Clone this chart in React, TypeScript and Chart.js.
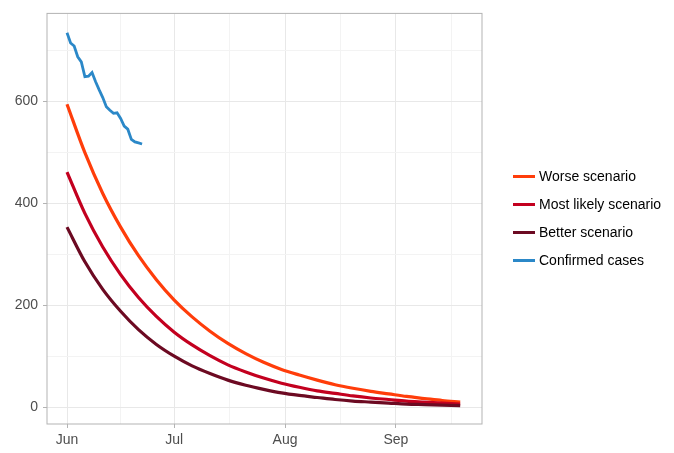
import { useEffect, useRef } from "react"
import { Chart, registerables } from "chart.js"

Chart.register(...registerables)

// days counted from Jun 1
const scenarioDays = [0, 5, 10, 15, 20, 25, 30, 35, 40, 45, 50, 55, 60, 65, 70, 75, 80, 85, 90, 95, 100, 105, 110]
const worseScenario = [594, 499, 419, 353, 297, 250, 210, 177, 149, 125, 105, 88, 74, 63, 53, 44, 37, 31, 26, 21, 17, 13, 10]
const likelyScenario = [461, 380, 314, 260, 215, 178, 147, 122, 101, 83, 69, 57, 47, 39, 32, 27, 22, 18, 15, 12, 10, 8, 6]
const betterScenario = [353, 285, 231, 188, 152, 123, 100, 81, 66, 53, 43, 35, 28, 23, 19, 15, 12, 10, 8, 6, 5, 4, 3]

const confirmedDays = [0, 1, 2, 3, 4, 5, 6, 7, 8, 9, 10, 11, 12, 13, 14, 15, 16, 17, 18, 19, 20, 21]
const confirmedCases = [734, 714, 708, 687, 677, 648, 649, 656, 638, 622, 607, 589, 582, 576, 577, 566, 551, 545, 525, 520, 518, 516]

const monthTicks = [0, 30, 61, 92]
const monthLabels = ["Jun", "Jul", "Aug", "Sep"]
const monthMinor = [15, 45.5, 76.5, 107.5]
const valueTicks = [0, 200, 400, 600]
const valueMinor = [100, 300, 500, 700]

const series = [
  { label: "Worse scenario", color: "#ff3d0a" },
  { label: "Most likely scenario", color: "#c3001f" },
  { label: "Better scenario", color: "#6c0a22" },
  { label: "Confirmed cases", color: "#2b88c8" },
]

const FONT = "'Liberation Sans', Arial, sans-serif"

const toPoints = (xs: number[], ys: number[]) => xs.map((x, i) => ({ x, y: ys[i] }))

const panelBorder = {
  id: "panelBorder",
  afterDraw(chart: Chart) {
    const { ctx, chartArea } = chart
    ctx.save()
    ctx.strokeStyle = "#b3b3b3"
    ctx.lineWidth = 1
    ctx.strokeRect(chartArea.left, chartArea.top, chartArea.right - chartArea.left, chartArea.bottom - chartArea.top)
    ctx.restore()
  },
}

export default function App() {
  const chartRef = useRef<HTMLCanvasElement>(null)
  const chartInstance = useRef<Chart | null>(null)

  useEffect(() => {
    if (!chartRef.current) return
    if (chartInstance.current) chartInstance.current.destroy()

    const ctx = chartRef.current.getContext("2d")
    if (!ctx) return

    const scenarioSets = [worseScenario, likelyScenario, betterScenario].map((vals, i) => ({
      label: series[i].label,
      data: toPoints(scenarioDays, vals),
      borderColor: series[i].color,
      backgroundColor: series[i].color,
      borderWidth: 3.2,
      pointRadius: 0,
      cubicInterpolationMode: "monotone" as const,
      order: 4 - i,
    }))

    chartInstance.current = new Chart(ctx, {
      type: "line",
      data: {
        datasets: [
          ...scenarioSets,
          {
            label: series[3].label,
            data: toPoints(confirmedDays, confirmedCases),
            borderColor: series[3].color,
            backgroundColor: series[3].color,
            borderWidth: 2.8,
            pointRadius: 0,
            tension: 0,
            order: 0,
          },
        ],
      },
      options: {
        responsive: false,
        animation: false,
        layout: { padding: { top: 13, right: 192, left: 0, bottom: 0 } },
        plugins: {
          legend: { display: false },
          tooltip: { enabled: false },
        },
        scales: {
          x: {
            type: "linear",
            min: -5.6,
            max: 116.1,
            afterFit: (scale: any) => {
              scale.height = 29
            },
            afterBuildTicks: (scale: any) => {
              scale.ticks = [...monthTicks, ...monthMinor].sort((a, b) => a - b).map((value) => ({ value }))
            },
            border: { display: false },
            grid: {
              color: (c: any) => (monthTicks.includes(c.tick?.value) ? "#e8e8e8" : "#f3f3f3"),
              tickColor: (c: any) => (monthTicks.includes(c.tick?.value) ? "#b3b3b3" : "rgba(0,0,0,0)"),
              tickLength: 4,
              lineWidth: 1,
            },
            ticks: {
              autoSkip: false,
              maxRotation: 0,
              padding: 4,
              color: "#4d4d4d",
              font: { family: FONT, size: 14 },
              callback: (value: any) => {
                const idx = monthTicks.indexOf(Number(value))
                return idx >= 0 ? monthLabels[idx] : ""
              },
            },
          },
          y: {
            type: "linear",
            min: -33,
            max: 772,
            afterFit: (scale: any) => {
              scale.width = 47
            },
            afterBuildTicks: (scale: any) => {
              scale.ticks = [...valueTicks, ...valueMinor].sort((a, b) => a - b).map((value) => ({ value }))
            },
            border: { display: false },
            grid: {
              color: (c: any) => (valueTicks.includes(c.tick?.value) ? "#e8e8e8" : "#f3f3f3"),
              tickColor: (c: any) => (valueTicks.includes(c.tick?.value) ? "#b3b3b3" : "rgba(0,0,0,0)"),
              tickLength: 4,
              lineWidth: 1,
            },
            ticks: {
              autoSkip: false,
              padding: 5,
              color: "#4d4d4d",
              font: { family: FONT, size: 14 },
              callback: (value: any) => (valueTicks.includes(Number(value)) ? String(value) : ""),
            },
          },
        },
      },
      plugins: [panelBorder],
    })

    return () => {
      if (chartInstance.current) {
        chartInstance.current.destroy()
        chartInstance.current = null
      }
    }
  }, [])

  return (
    <div style={{ position: "fixed", left: 0, top: 0, width: 674, height: 453, background: "#fff" }}>
      <canvas ref={chartRef} width={674} height={453} />
      <div style={{ position: "absolute", left: 513, top: 162, fontFamily: FONT, fontSize: 14, color: "#000" }}>
        {series.map((s) => (
          <div key={s.label} style={{ display: "flex", alignItems: "center", height: 28 }}>
            <span style={{ display: "inline-block", width: 22, height: 3, background: s.color, marginRight: 4 }} />
            <span>{s.label}</span>
          </div>
        ))}
      </div>
    </div>
  )
}
